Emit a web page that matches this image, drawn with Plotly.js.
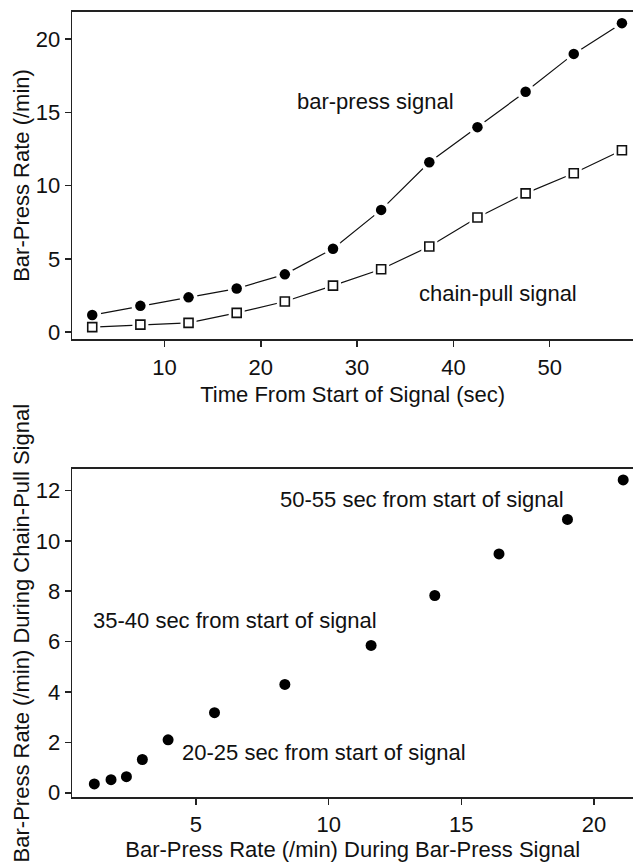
<!DOCTYPE html>
<html>
<head>
<meta charset="utf-8">
<script src="https://cdn.plot.ly/plotly-3.0.1.min.js"></script>
<style>html,body{margin:0;padding:0;background:#fff;}#chart{width:633px;height:867px;}</style>
</head>
<body>
<div id="chart"></div>
<script>
// Data
const timeSec = [2.5, 7.5, 12.5, 17.5, 22.5, 27.5, 32.5, 37.5, 42.5, 47.5, 52.5, 57.5];
const barPressRate = [1.17, 1.8, 2.38, 2.98, 3.95, 5.7, 8.35, 11.6, 14.0, 16.42, 19.0, 21.1];
const chainPullRate = [0.35, 0.52, 0.64, 1.32, 2.1, 3.18, 4.3, 5.85, 7.83, 9.48, 10.85, 12.42];
const topXTicks = [10, 20, 30, 40, 50];
const topYTicks = [0, 5, 10, 15, 20];
const botXTicks = [5, 10, 15, 20];
const botYTicks = [0, 2, 4, 6, 8, 10, 12];

const FONT = 'Liberation Sans, Arial, sans-serif';
const INK = '#111';

const traces = [
  {x: timeSec, y: barPressRate, mode: 'lines', line: {color: INK, width: 1.2}, xaxis: 'x', yaxis: 'y', hoverinfo: 'skip'},
  {x: timeSec, y: chainPullRate, mode: 'lines', line: {color: INK, width: 1.2}, xaxis: 'x', yaxis: 'y', hoverinfo: 'skip'},
  // white halos so connecting lines stop short of the markers
  {x: timeSec, y: barPressRate, mode: 'markers', marker: {symbol: 'circle', size: 18, color: '#fff'}, xaxis: 'x', yaxis: 'y', hoverinfo: 'skip'},
  {x: timeSec, y: chainPullRate, mode: 'markers', marker: {symbol: 'square', size: 16, color: '#fff'}, xaxis: 'x', yaxis: 'y', hoverinfo: 'skip'},
  {x: timeSec, y: barPressRate, mode: 'markers', name: 'bar-press signal', marker: {symbol: 'circle', size: 10.5, color: '#000'}, xaxis: 'x', yaxis: 'y'},
  {x: timeSec, y: chainPullRate, mode: 'markers', name: 'chain-pull signal', marker: {symbol: 'square', size: 9, color: '#fff', line: {color: INK, width: 1.6}}, xaxis: 'x', yaxis: 'y'},
  {x: barPressRate, y: chainPullRate, mode: 'markers', marker: {symbol: 'circle', size: 11, color: '#000'}, xaxis: 'x2', yaxis: 'y2'}
];

const axisCommon = {
  showgrid: false, zeroline: false, showline: true, linecolor: '#222', linewidth: 1.6,
  ticks: 'outside', ticklen: 6, tickwidth: 1.5, tickcolor: '#222',
  tickfont: {family: FONT, size: 22, color: INK}
};

const layout = {
  width: 633, height: 867,
  margin: {l: 0, r: 0, t: 0, b: 0},
  paper_bgcolor: '#fff', plot_bgcolor: '#fff',
  showlegend: false,
  font: {family: FONT, color: INK},
  xaxis: Object.assign({}, axisCommon, {
    domain: [0.1142, 1], range: [0.43, 58.65], anchor: 'y', mirror: true,
    tickvals: topXTicks, ticktext: topXTicks.map(String), ticklabelstandoff: 2,
    title: {text: 'Time From Start of Signal (sec)', font: {family: FONT, size: 22, color: INK}, standoff: 7}
  }),
  yaxis: Object.assign({}, axisCommon, {
    domain: [0.6087, 0.9865], range: [-0.48, 21.88], anchor: 'x',
    tickvals: topYTicks, ticktext: topYTicks.map(String),
    title: {text: 'Bar-Press Rate (/min)', font: {family: FONT, size: 22, color: INK}, standoff: 0}
  }),
  xaxis2: Object.assign({}, axisCommon, {
    domain: [0.1142, 1], range: [0.34, 21.47], anchor: 'y2', mirror: true,
    tickvals: botXTicks, ticktext: botXTicks.map(String), ticklabelstandoff: 1,
    title: {text: 'Bar-Press Rate (/min) During Bar-Press Signal', font: {family: FONT, size: 22, color: INK}, standoff: 5}
  }),
  yaxis2: Object.assign({}, axisCommon, {
    domain: [0.0804, 0.459], range: [-0.18, 12.85], anchor: 'x2',
    tickvals: botYTicks, ticktext: botYTicks.map(String),
    title: {text: 'Bar-Press Rate (/min) During Chain-Pull Signal', font: {family: FONT, size: 22, color: INK}, standoff: 0}
  }),
  annotations: [
    {text: 'bar-press signal', x: 31.96, y: 15.72, xref: 'x', yref: 'y', showarrow: false, font: {family: FONT, size: 22, color: INK}},
    {text: 'chain-pull signal', x: 44.63, y: 2.66, xref: 'x', yref: 'y', showarrow: false, font: {family: FONT, size: 22, color: INK}},
    {text: '50-55 sec from start of signal', x: 13.52, y: 11.65, xref: 'x2', yref: 'y2', showarrow: false, font: {family: FONT, size: 22, color: INK}},
    {text: '35-40 sec from start of signal', x: 6.49, y: 6.83, xref: 'x2', yref: 'y2', showarrow: false, font: {family: FONT, size: 22, color: INK}},
    {text: '20-25 sec from start of signal', x: 9.81, y: 1.60, xref: 'x2', yref: 'y2', showarrow: false, font: {family: FONT, size: 22, color: INK}}
  ]
};

Plotly.newPlot('chart', traces, layout, {staticPlot: true, displayModeBar: false});
</script>
</body>
</html>
